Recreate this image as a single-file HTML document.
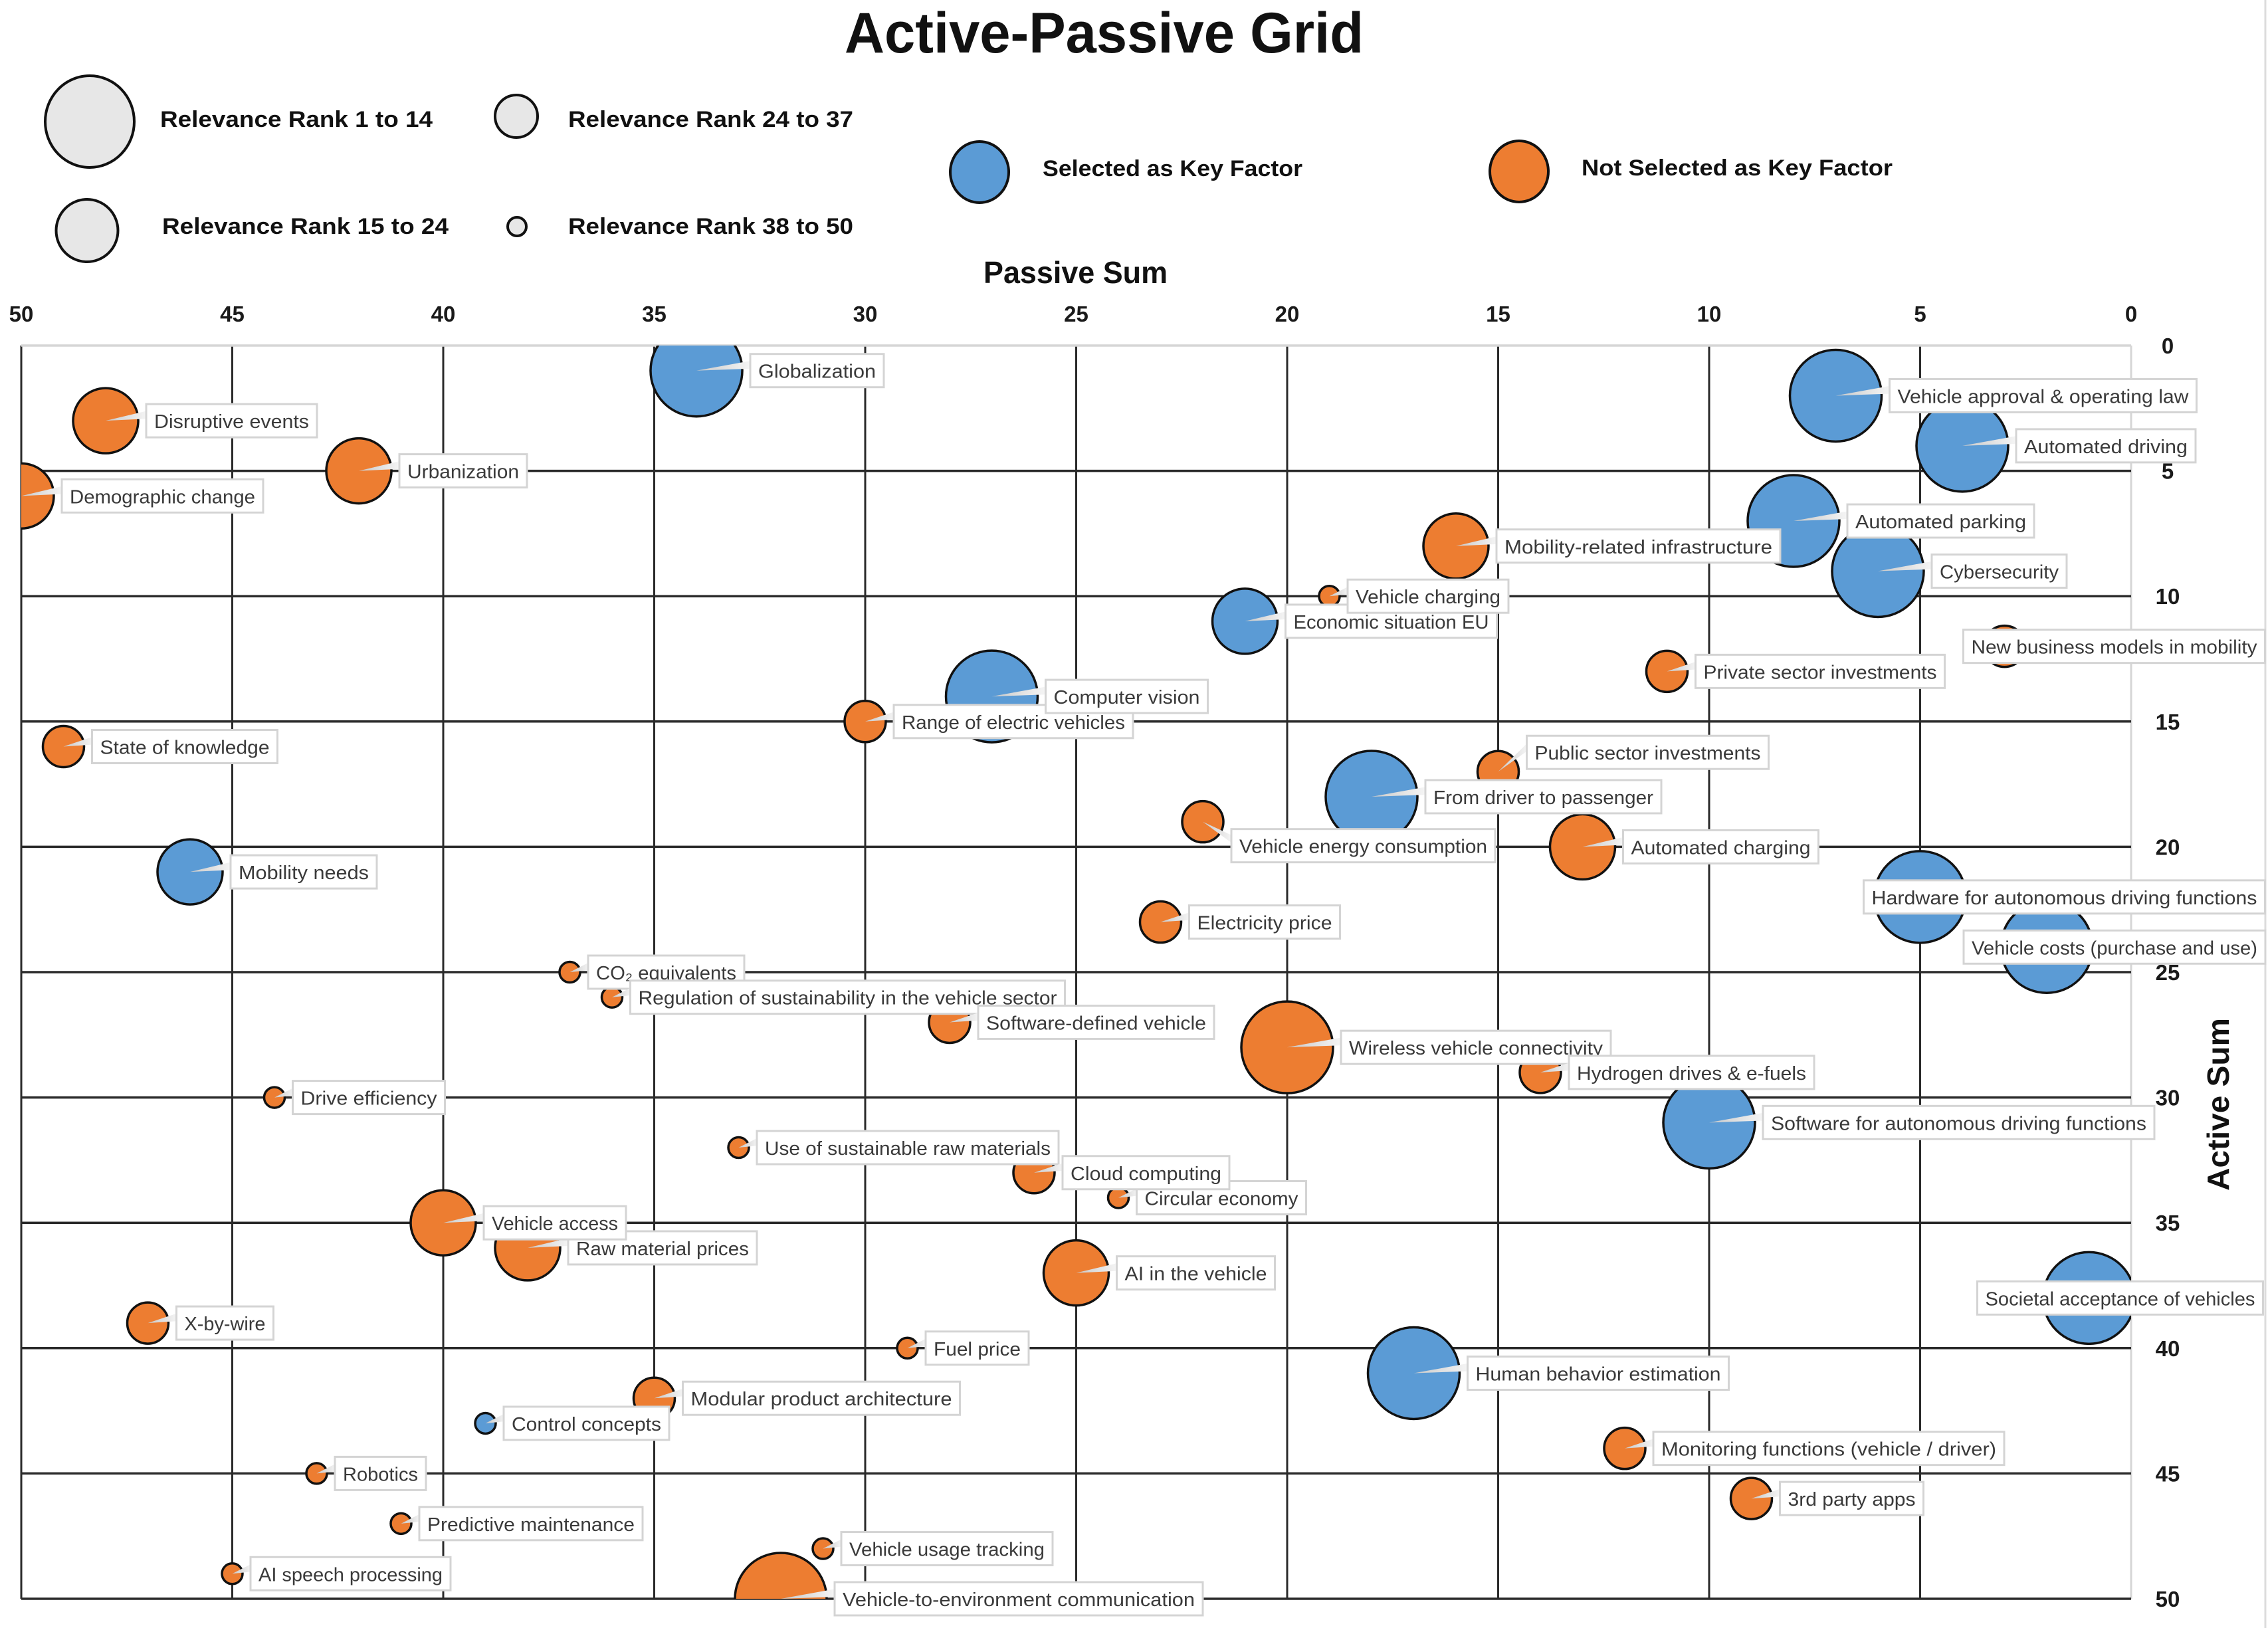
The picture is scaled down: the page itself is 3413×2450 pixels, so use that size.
<!DOCTYPE html>
<html lang="en">
<head>
<meta charset="utf-8">
<title>Active-Passive Grid</title>
<style>
html,body{margin:0;padding:0;background:#fff;}
svg{display:block;font-family:"Liberation Sans",sans-serif;}
.legend-label{font-weight:700;font-size:34px;fill:#111;}
.tick{font-weight:700;font-size:33px;fill:#1a1a1a;}
.lbl{font-size:29px;fill:#3a3a3a;}
</style>
</head>
<body>
<svg id="chart" xmlns="http://www.w3.org/2000/svg" width="3413" height="2450" viewBox="0 0 3413 2450">
  <rect x="0" y="0" width="3413" height="2450" fill="#fff"/>
  <line x1="3409" y1="0" x2="3409" y2="2450" stroke="#dcdcdc" stroke-width="3"/>
  <text x="1271" y="79" font-size="86" font-weight="700" fill="#111" textLength="781" lengthAdjust="spacingAndGlyphs">Active-Passive Grid</text>

  <g stroke="#111" stroke-width="4" fill="#e7e7e7">
    <ellipse cx="135" cy="183" rx="67" ry="69"/>
    <ellipse cx="131" cy="347" rx="46.5" ry="47"/>
    <ellipse cx="777" cy="175" rx="32" ry="32"/>
    <ellipse cx="778" cy="341" rx="14" ry="14"/>
  </g>
  <text class="legend-label" x="241" y="191" textLength="410" lengthAdjust="spacingAndGlyphs">Relevance Rank 1 to 14</text>
  <text class="legend-label" x="855" y="191" textLength="429" lengthAdjust="spacingAndGlyphs">Relevance Rank 24 to 37</text>
  <text class="legend-label" x="244" y="352" textLength="431" lengthAdjust="spacingAndGlyphs">Relevance Rank 15 to 24</text>
  <text class="legend-label" x="855" y="352" textLength="429" lengthAdjust="spacingAndGlyphs">Relevance Rank 38 to 50</text>

  <g stroke="#111" stroke-width="4">
    <ellipse cx="1474" cy="259" rx="44" ry="46" fill="#5B9BD5"/>
    <ellipse cx="2286" cy="258" rx="44" ry="46" fill="#ED7D31"/>
  </g>
  <text class="legend-label" x="1569" y="265" textLength="391" lengthAdjust="spacingAndGlyphs">Selected as Key Factor</text>
  <text class="legend-label" x="2380" y="264" textLength="468" lengthAdjust="spacingAndGlyphs">Not Selected as Key Factor</text>

  <text x="1480" y="426" font-size="46" font-weight="700" fill="#111" textLength="277" lengthAdjust="spacingAndGlyphs">Passive Sum</text>
  <text transform="translate(3354,1792) rotate(-90)" font-size="46" font-weight="700" fill="#111" textLength="260" lengthAdjust="spacingAndGlyphs">Active Sum</text>

  <defs>
    <clipPath id="plot-clip"><rect x="32" y="520" width="3175" height="1886"/></clipPath>
    <linearGradient id="leader-fill" x1="0" y1="0" x2="1" y2="0">
      <stop offset="0" stop-color="#c9c9c9"/>
      <stop offset="1" stop-color="#f6f6f6"/>
    </linearGradient>
  </defs>
  <g id="grid"></g>
  <g id="ticks"></g>
  <g id="bubbles" clip-path="url(#plot-clip)"></g>
  <g id="labels"></g>
</svg>

<script>
// ---- chart data ----
const factors = [
  "Globalization","Vehicle approval & operating law","Disruptive events","Automated driving","Urbanization",
  "Demographic change","Automated parking","Mobility-related infrastructure","Cybersecurity","Vehicle charging",
  "Economic situation EU","New business models in mobility","Private sector investments","Computer vision","Range of electric vehicles",
  "State of knowledge","Public sector investments","From driver to passenger","Vehicle energy consumption","Automated charging",
  "Mobility needs","Hardware for autonomous driving functions","Electricity price","Vehicle costs (purchase and use)","CO₂ equivalents",
  "Regulation of sustainability in the vehicle sector","Software-defined vehicle","Wireless vehicle connectivity","Hydrogen drives & e-fuels","Drive efficiency",
  "Software for autonomous driving functions","Use of sustainable raw materials","Cloud computing","Circular economy","Vehicle access",
  "Raw material prices","AI in the vehicle","Societal acceptance of vehicles","X-by-wire","Fuel price",
  "Human behavior estimation","Modular product architecture","Control concepts","Monitoring functions (vehicle / driver)","Robotics",
  "3rd party apps","Predictive maintenance","Vehicle usage tracking","AI speech processing","Vehicle-to-environment communication"
];
const passiveSum = [
  34,7,48,4,42,
  50,8,16,6,19,
  21,3,11,27,30,
  49,15,18,22,13,
  46,5,23,2,37,
  36,28,20,14,44,
  10,33,26,24,40,
  38,25,1,47,29,
  17,35,39,12,43,
  9,41,31,45,32
];
const activeSum = [
  1,2,3,4,5,
  6,7,8,9,10,
  11,12,13,14,15,
  16,17,18,19,20,
  21,22,23,24,25,
  26,27,28,29,30,
  31,32,33,34,35,
  36,37,38,39,40,
  41,42,43,44,45,
  46,47,48,49,50
];
// 1 = rank 1-14, 2 = rank 15-24, 3 = rank 24-37, 4 = rank 38-50
const rankGroup = [
  1,1,2,1,2,
  2,1,2,1,4,
  2,3,3,1,3,
  3,3,1,3,2,
  2,1,3,1,4,
  4,3,1,3,4,
  1,4,3,4,2,
  2,2,1,3,4,
  1,3,4,3,4,
  3,4,4,4,1
];
// 1 = selected as key factor
const selected = [
  1,1,0,1,0,
  0,1,0,1,0,
  1,0,0,1,0,
  0,0,1,0,0,
  1,1,0,1,0,
  0,0,0,0,0,
  1,0,0,0,0,
  0,0,1,0,0,
  1,0,1,0,0,
  0,0,0,0,0
];
const xTickLabels = [50,45,40,35,30,25,20,15,10,5,0];
const yTickLabels = [0,5,10,15,20,25,30,35,40,45,50];

// ---- axis functions ----
const PLOT = {left:32, right:3207, top:520, bottom:2406};
const AXIS_MAX = 50;
function xScale(v){ return PLOT.right - (v / AXIS_MAX) * (PLOT.right - PLOT.left); }
function yScale(v){ return PLOT.top + (v / AXIS_MAX) * (PLOT.bottom - PLOT.top); }
function radiusFor(group){ return group === 1 ? 69 : group === 2 ? 49 : group === 3 ? 31 : 15.5; }

// ---- label layout (presentation only, separate from the chart data) ----
const labelPlacementExceptions = {
  "New business models in mobility": {fromCenter:-62},
  "Hardware for autonomous driving functions": {fromCenter:-85},
  "Vehicle costs (purchase and use)": {fromCenter:-125},
  "Societal acceptance of vehicles": {fromCenter:-168},
  "Public sector investments": {dy:-29},
  "Vehicle energy consumption": {dy:36}
};
const labelBoxWidths = {
  "Globalization":201,"Vehicle approval & operating law":462,"Disruptive events":257,"Automated driving":270,"Urbanization":192,
  "Demographic change":303,"Automated parking":281,"Mobility-related infrastructure":427,"Cybersecurity":203,"Vehicle charging":242,
  "Economic situation EU":318,"New business models in mobility":454,"Private sector investments":375,"Computer vision":244,"Range of electric vehicles":360,
  "State of knowledge":279,"Public sector investments":364,"From driver to passenger":355,"Vehicle energy consumption":397,"Automated charging":294,
  "Mobility needs":220,"Hardware for autonomous driving functions":604,"Electricity price":227,"Vehicle costs (purchase and use)":454,"CO₂ equivalents":235,
  "Regulation of sustainability in the vehicle sector":654,"Software-defined vehicle":355,"Wireless vehicle connectivity":406,"Hydrogen drives & e-fuels":369,"Drive efficiency":229,
  "Software for autonomous driving functions":589,"Use of sustainable raw materials":454,"Cloud computing":251,"Circular economy":255,"Vehicle access":214,
  "Raw material prices":284,"AI in the vehicle":238,"Societal acceptance of vehicles":430,"X-by-wire":146,"Fuel price":155,
  "Human behavior estimation":393,"Modular product architecture":417,"Control concepts":249,"Monitoring functions (vehicle / driver)":528,"Robotics":137,
  "3rd party apps":216,"Predictive maintenance":336,"Vehicle usage tracking":318,"AI speech processing":301,"Vehicle-to-environment communication":554
};
// these labels overlap a neighbour and sit in front of it
const labelsOnTop = ["Vehicle charging","Computer vision","Cloud computing","Vehicle access"];

const NS = "http://www.w3.org/2000/svg";
const gridG = document.getElementById("grid");
const ticksG = document.getElementById("ticks");
const bubblesG = document.getElementById("bubbles");
const labelsG = document.getElementById("labels");

// grid lines & ticks
xTickLabels.forEach(function(t){
  const x = xScale(t);
  const line = document.createElementNS(NS,"line");
  
  
  line.setAttribute("x1",x); line.setAttribute("x2",x);
  line.setAttribute("y1",PLOT.top); line.setAttribute("y2",PLOT.bottom);
  line.setAttribute("stroke", t === 0 ? "#d6d6d6" : "#2a2a2a");
  line.setAttribute("stroke-width", 3);
  gridG.appendChild(line);

  const label = document.createElementNS(NS,"text");
  
  
  label.setAttribute("class","tick");
  label.setAttribute("x",x);
  label.setAttribute("y",484);
  label.setAttribute("text-anchor","middle");
  label.textContent = t;
  ticksG.appendChild(label);
});
yTickLabels.forEach(function(t){
  const y = yScale(t);
  const line = document.createElementNS(NS,"line");
  
  
  line.setAttribute("x1",PLOT.left); line.setAttribute("x2",PLOT.right);
  line.setAttribute("y1",y); line.setAttribute("y2",y);
  line.setAttribute("stroke", t === 0 ? "#d6d6d6" : "#2a2a2a");
  line.setAttribute("stroke-width", 3.5);
  gridG.appendChild(line);

  const label = document.createElementNS(NS,"text");
  
  
  label.setAttribute("class","tick");
  label.setAttribute("x",3262);
  label.setAttribute("y",y + 12);
  label.setAttribute("text-anchor","middle");
  label.textContent = t;
  ticksG.appendChild(label);
});

// bubbles
factors.forEach(function(name,i){
  const c = document.createElementNS(NS,"circle");
  
  
  c.setAttribute("cx",xScale(passiveSum[i]));
  c.setAttribute("cy",yScale(activeSum[i]));
  c.setAttribute("r",radiusFor(rankGroup[i]));
  c.setAttribute("fill",selected[i] ? "#5B9BD5" : "#ED7D31");
  c.setAttribute("stroke","#111");
  c.setAttribute("stroke-width",3.5);
  bubblesG.appendChild(c);
});

// labels (drawn after every bubble)
const BOX_H = 50, PAD = 12, GAP = 12;
function drawLabel(name,i){
  const cx = xScale(passiveSum[i]);
  const cy = yScale(activeSum[i]);
  const r = radiusFor(rankGroup[i]);
  const ex = labelPlacementExceptions[name] || {};
  const left = ex.fromCenter !== undefined ? cx + ex.fromCenter : cx + r + GAP;
  const top = cy + (ex.dy || 0) - BOX_H / 2;
  const width = labelBoxWidths[name];

  const g = document.createElementNS(NS,"g");
  
  
  labelsG.appendChild(g);

  const wedge = document.createElementNS(NS,"polygon");
  
  
  wedge.setAttribute("points", cx+","+cy+" "+(left+2)+","+(top+10)+" "+(left+2)+","+(top+22));
  wedge.setAttribute("fill","url(#leader-fill)");
  g.appendChild(wedge);

  const box = document.createElementNS(NS,"rect");
  
  
  box.setAttribute("x",left);
  box.setAttribute("y",top);
  box.setAttribute("width",width);
  box.setAttribute("height",BOX_H);
  box.setAttribute("fill","#fff");
  box.setAttribute("stroke","#d4d4d4");
  box.setAttribute("stroke-width",3);
  g.appendChild(box);

  const text = document.createElementNS(NS,"text");
  
  
  text.setAttribute("class","lbl");
  text.setAttribute("x",left + PAD);
  text.setAttribute("y",top + BOX_H / 2 + 11);
  text.setAttribute("textLength",width - PAD * 2);
  text.setAttribute("lengthAdjust","spacingAndGlyphs");
  text.textContent = name;
  g.appendChild(text);
}
factors.forEach(function(name,i){
  if (labelsOnTop.indexOf(name) === -1) drawLabel(name,i);
});
factors.forEach(function(name,i){
  if (labelsOnTop.indexOf(name) !== -1) drawLabel(name,i);
});
</script>
</body>
</html>
